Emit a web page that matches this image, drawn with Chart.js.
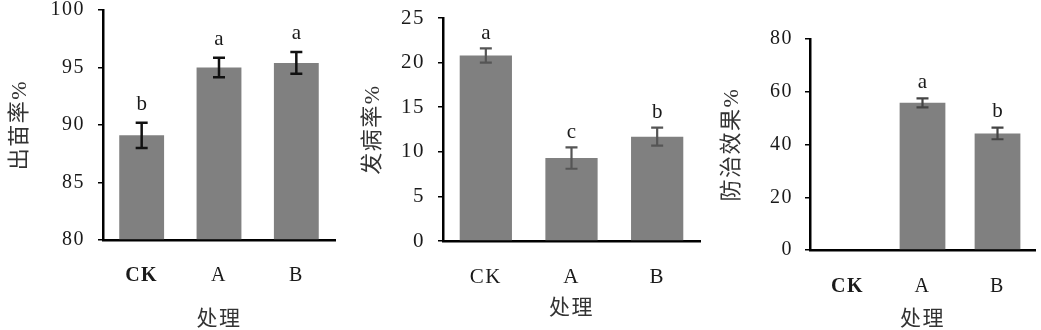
<!DOCTYPE html>
<html lang="zh">
<head>
<meta charset="UTF-8">
<title>出苗率、发病率与防治效果</title>
<script src="https://cdn.jsdelivr.net/npm/chart.js"></script>
<style>
  body { margin: 0; background: #fff; width: 1041px; height: 330px; overflow: hidden; position: relative; }
  .panel { position: absolute; top: 0; height: 330px; }
</style>
</head>
<body>
<div class="panel" style="left:0;width:345px"><canvas id="c1"></canvas></div>
<div class="panel" style="left:350px;width:352px"><canvas id="c2"></canvas></div>
<div class="panel" style="left:702px;width:339px"><canvas id="c3"></canvas></div>
<script>
// treatments
const categories = ['CK', 'A', 'B'];

// emergence rate (%)
const emergence = [89.1, 95.0, 95.4];
const emergenceErr = [1.1, 0.85, 0.95];
const emergenceSig = ['b', 'a', 'a'];

// disease incidence (%)
const incidence = [20.8, 9.3, 11.7];
const incidenceErr = [0.8, 1.2, 1.0];
const incidenceSig = ['a', 'c', 'b'];

// control efficacy (%)
const efficacy = [0, 55.8, 44.2];
const efficacyErr = [0, 1.7, 2.2];
const efficacySig = ['', 'a', 'b'];

const SERIF = '"Liberation Serif", "Noto Sans CJK SC", serif';
const INK = '#1a1a1a';

// the scanned figure has loosely spaced glyphs
const spacingPlugin = {
  id: 'spacing',
  beforeDraw(chart) { chart.ctx.letterSpacing = '1.5px'; }
};

// error bars + significance letters, drawn through the y scale
const errorBarPlugin = {
  id: 'errorBars',
  afterDatasetsDraw(chart, args, opts) {
    const { ctx } = chart;
    const y = chart.scales.y;
    const meta = chart.getDatasetMeta(0);
    const values = chart.data.datasets[0].data;
    ctx.save();
    meta.data.forEach((bar, i) => {
      const v = values[i];
      const e = opts.errors[i];
      const cx = bar.x;
      let top = y.getPixelForValue(v);
      if (e) {
        const hi = y.getPixelForValue(v + e);
        const lo = y.getPixelForValue(v - e);
        ctx.strokeStyle = opts.color;
        ctx.lineWidth = opts.width;
        ctx.beginPath();
        ctx.moveTo(cx, hi); ctx.lineTo(cx, lo);
        ctx.moveTo(cx - opts.cap, hi); ctx.lineTo(cx + opts.cap, hi);
        ctx.moveTo(cx - opts.cap, lo); ctx.lineTo(cx + opts.cap, lo);
        ctx.stroke();
        top = hi;
      }
      if (opts.letters[i]) {
        ctx.fillStyle = INK;
        ctx.font = '21px ' + SERIF;
        ctx.letterSpacing = '0px';
        ctx.textAlign = 'center';
        ctx.textBaseline = 'middle';
        ctx.fillText(opts.letters[i], cx, top - opts.gap);
      }
    });
    ctx.restore();
  }
};

function makeChart(id, p) {
  new Chart(document.getElementById(id), {
    type: 'bar',
    data: {
      labels: categories,
      datasets: [{
        data: p.values,
        base: p.min,
        backgroundColor: '#808080',
        barPercentage: p.barPct,
        categoryPercentage: 1
      }]
    },
    options: {
      responsive: true,
      maintainAspectRatio: false,
      animation: false,
      layout: { padding: { top: p.top, right: p.right, left: 0, bottom: 0 } },
      plugins: {
        legend: { display: false },
        tooltip: { enabled: false },
        errorBars: { errors: p.errors, letters: p.letters, color: p.errColor, width: p.errWidth, cap: 6, gap: p.gap }
      },
      scales: {
        x: {
          afterFit: s => { s.height = p.xHeight; },
          grid: { display: false, drawTicks: false },
          border: { display: true, color: '#000', width: 2.5 },
          ticks: {
            color: INK,
            padding: p.xPad,
            font: c => ({ family: SERIF, size: p.tickSize, lineHeight: 1.2, weight: (p.boldCK && c.index === 0) ? 'bold' : 'normal' })
          },
          title: {
            display: true,
            text: '处理',
            color: '#333',
            font: { family: SERIF, size: 21, lineHeight: 1 },
            padding: { top: 0, bottom: p.xTitlePad }
          }
        },
        y: {
          min: p.min,
          max: p.max,
          afterFit: s => { s.width = p.yWidth; s.paddingTop = 0; s.paddingBottom = 0; },
          grid: { drawOnChartArea: false, drawTicks: true, tickLength: 5, color: '#000', lineWidth: 1.5 },
          border: { display: true, color: '#000', width: 2.5 },
          ticks: {
            stepSize: p.step,
            color: INK,
            padding: p.yPad,
            font: { family: SERIF, size: p.tickSize, lineHeight: 1 }
          },
          title: {
            display: true,
            text: p.yTitle,
            color: '#333',
            font: { family: SERIF, size: 22, lineHeight: 1 },
            padding: { top: p.yTitlePad, bottom: 0 }
          }
        }
      }
    },
    plugins: [spacingPlugin, errorBarPlugin]
  });
}

makeChart('c1', {
  values: emergence, errors: emergenceErr, letters: emergenceSig,
  min: 80, max: 100, step: 5, yTitle: '出苗率%',
  top: 10, right: 10, yWidth: 103, xHeight: 90,
  xPad: 24, xTitlePad: 0, yPad: 13, yTitlePad: 9, tickSize: 20,
  barPct: 0.58, errColor: '#111', errWidth: 2.5, gap: 18, boldCK: true
});

makeChart('c2', {
  values: incidence, errors: incidenceErr, letters: incidenceSig,
  min: 0, max: 25, step: 5, yTitle: '发病率%',
  top: 18, right: 2, yWidth: 93, xHeight: 89,
  xPad: 24, xTitlePad: 11, yPad: 13, yTitlePad: 12, tickSize: 21,
  barPct: 0.61, errColor: '#555', errWidth: 2.2, gap: 15, boldCK: false
});

makeChart('c3', {
  values: efficacy, errors: efficacyErr, letters: efficacySig,
  min: 0, max: 80, step: 20, yTitle: '防治效果%',
  top: 39, right: 6, yWidth: 108, xHeight: 80,
  xPad: 25, xTitlePad: 0, yPad: 12, yTitlePad: 19, tickSize: 20,
  barPct: 0.61, errColor: '#444', errWidth: 2.2, gap: 16, boldCK: true
});
</script>
</body>
</html>
